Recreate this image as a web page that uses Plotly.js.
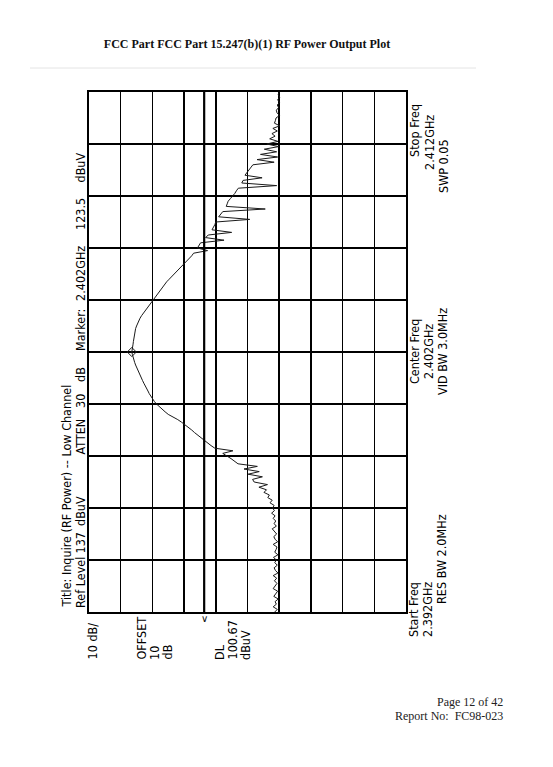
<!DOCTYPE html>
<html>
<head>
<meta charset="utf-8">
<script src="https://cdn.plot.ly/plotly-3.0.1.min.js"></script>
<style>
html,body{margin:0;padding:0;background:#fff;}
#chart{width:553px;height:767px;}
</style>
</head>
<body>
<div id="chart"></div>
<script>
// ---- Sweep data (spectrum analyzer trace), frequency in MHz, level in dBuV ----
const startFreqMHz = 2392;
const stopFreqMHz = 2412;
const sweepStepMHz = 0.1;
const refLevel = 137;
const dbPerDiv = 10;
const displayLine = 100.67;
const markerFreqMHz = 2402;
const markerLevel = 123.5;

const traceLevels = [
  78.4, 77.6, 78.9, 77.9, 78.3, 77.3, 78.7, 78.1, 77.5, 78.9,
  78.2, 77.7, 78.5, 77.8, 78.9, 77.4, 78.2, 78.6, 77.6, 78.4,
  77.9, 78.8, 77.4, 78.4, 78.0, 77.7, 78.9, 77.5, 78.3, 78.7,
  77.8, 78.4, 79.2, 77.9, 78.6, 78.1, 78.9, 78.3, 79.4, 78.5,
  79.1, 78.6, 79.9, 79.2, 80.6, 80.1, 81.8, 81.0, 83.4, 80.7,
  84.9, 85.4, 82.3, 86.8, 83.3, 88.1, 83.9, 90.0, 91.0, 92.2,
  93.5, 94.8, 91.6, 97.3, 98.5, 99.6, 100.7, 101.6, 102.9, 103.7,
  104.6, 105.6, 106.8, 107.8, 109.0, 110.5, 112.0, 113.0, 114.0, 114.8,
  115.7, 116.4, 117.0, 117.5, 118.0, 118.4, 118.9, 119.3, 119.7, 120.1,
  120.5, 120.9, 121.3, 121.7, 122.0, 122.3, 122.6, 122.9, 123.1, 123.3,
  123.5, 123.3, 123.2, 123.1, 123.0, 122.9, 122.8, 122.7, 122.5, 122.3,
  122.0, 121.7, 121.3, 120.9, 120.4, 119.8, 119.1, 118.4, 117.8, 117.3,
  116.8, 116.2, 115.6, 115.0, 114.4, 113.8, 113.1, 112.5, 111.7, 110.9,
  110.1, 109.4, 108.6, 107.8, 107.0, 106.0, 105.3, 104.6, 104.0, 99.6,
  102.8, 102.3, 101.8, 94.4, 100.2, 99.4, 92.0, 98.2, 97.7, 97.3,
  97.0, 86.3, 96.1, 95.5, 94.8, 81.4, 93.7, 93.4, 93.1, 92.4,
  91.6, 91.0, 90.5, 89.9, 77.8, 88.8, 88.4, 82.4, 87.8, 87.2,
  86.5, 85.9, 85.3, 78.6, 84.0, 77.5, 82.9, 77.8, 81.7, 77.2,
  80.9, 77.4, 80.0, 78.3, 79.3, 77.6, 79.0, 76.8, 78.5, 78.2,
  78.0, 76.9, 77.7, 77.9, 77.2, 77.6, 76.9, 77.5, 76.8, 77.3,
  77.0
];

// ---- Text labels ----
const headerText = "FCC Part FCC Part 15.247(b)(1) RF Power Output Plot";
const titleLine = "Title: Inquire (RF Power) -- Low Channel";
const infoWords = ["Ref Level", "137", "dBuV", "ATTEN", "30", "dB", "Marker:", "2.402GHz", "123.5", "dBuV"];
const scaleLabels = ["10 dB/", "OFFSET", "10", "dB", "DL", "100.67", "dBuV"];
const startLabels = ["Start Freq", "2.392GHz", "RES BW 2.0MHz"];
const centerLabels = ["Center Freq", "2.402GHz", "VID BW 3.0MHz"];
const stopLabels = ["Stop Freq", "2.412GHz", "SWP 0.05"];
const footerLines = ["Page 12 of 42", "Report No:  FC98-023"];

// ---- Layout geometry (pixels) ----
const W = 553, H = 767;
const L = 89, R = 406, T = 92, B = 612;
function px(x){ return (x - L) / (R - L); }
function py(y){ return (B - y) / (B - T); }

const anaFont = {family: "DejaVu Sans Condensed, Arial Narrow, sans-serif", size: 12.5, color: "#000"};
const serifFont = {family: "Liberation Serif, Times New Roman, serif", size: 12, color: "#222"};

const ann = [];
function rot(text, x, y, yanchor){
  ann.push({text: text, xref: "paper", yref: "paper", x: px(x), y: py(y),
    xanchor: "center", yanchor: yanchor || "middle", textangle: -90,
    showarrow: false, font: anaFont});
}
// left info lines
rot(titleLine, 66, 610, "bottom");
const infoY = [583, 543.5, 511, 436.5, 401, 375, 330, 274, 214, 167.5];
infoWords.forEach((w, i) => rot(w, 80, infoY[i]));
// below-plot scale labels (start at y=662, read upward)
const scaleX = [92, 141, 154, 167, 219, 232, 245];
scaleLabels.forEach((w, i) => rot(w, scaleX[i], 662, "bottom"));
// right side frequency labels
rot(startLabels[0], 413, 610); rot(startLabels[1], 427, 610); rot(startLabels[2], 441, 559);
rot(centerLabels[0], 414, 352); rot(centerLabels[1], 428, 352); rot(centerLabels[2], 442, 352);
rot(stopLabels[0], 415, 131); rot(stopLabels[1], 429, 143); rot(stopLabels[2], 443, 166);
// DL caret below plot
ann.push({text: "∨", xref: "x", yref: "paper", x: displayLine, y: py(618), xanchor: "center",
  yanchor: "middle", showarrow: false, font: {family: "DejaVu Sans", size: 10, color: "#111"}});
// footer
ann.push({text: footerLines[0], xref: "paper", yref: "paper", x: px(505), y: py(702),
  xanchor: "right", yanchor: "middle", showarrow: false, font: serifFont});
ann.push({text: footerLines[1], xref: "paper", yref: "paper", x: px(505), y: py(716),
  xanchor: "right", yanchor: "middle", showarrow: false, font: serifFont});

const data = [
  {type: "scatter", mode: "lines", x: traceLevels, y0: startFreqMHz, dy: sweepStepMHz,
   line: {color: "#1a1a1a", width: 1}, hoverinfo: "skip"},
  {type: "scatter", mode: "markers", x: [markerLevel], y: [markerFreqMHz],
   marker: {symbol: "diamond-open", size: 7, color: "#1a1a1a", line: {width: 1}}, hoverinfo: "skip"}
];

const layout = {
  width: W, height: H,
  margin: {l: L, r: W - R, t: T, b: H - B, pad: 0},
  paper_bgcolor: "#fff", plot_bgcolor: "#fff",
  showlegend: false,
  title: {text: "<b>" + headerText + "</b>", xref: "container", yref: "container",
    x: 247 / W, y: 1 - 44 / H, xanchor: "center", yanchor: "middle",
    font: {family: "Liberation Serif, Times New Roman, serif", size: 12, color: "#111"}},
  xaxis: {range: [refLevel, refLevel - 10 * dbPerDiv], tick0: refLevel, dtick: dbPerDiv,
    showgrid: true, gridcolor: "#000", gridwidth: 1.5, zeroline: false,
    showline: true, mirror: true, linecolor: "#000", linewidth: 1.6,
    showticklabels: false, ticks: "", fixedrange: true},
  yaxis: {range: [startFreqMHz, stopFreqMHz], tick0: startFreqMHz, dtick: (stopFreqMHz - startFreqMHz) / 10,
    showgrid: true, gridcolor: "#000", gridwidth: 1.5, zeroline: false,
    showline: true, mirror: true, linecolor: "#000", linewidth: 1.6,
    showticklabels: false, ticks: "", fixedrange: true},
  shapes: [
    {type: "line", xref: "x", yref: "paper", x0: displayLine, x1: displayLine, y0: 0, y1: 1,
     line: {color: "#000", width: 2.2}},
    {type: "line", xref: "paper", yref: "paper", x0: px(30), x1: px(476), y0: py(68), y1: py(68),
     line: {color: "#e4e4e4", width: 1}}
  ],
  annotations: ann
};

Plotly.newPlot("chart", data, layout, {displayModeBar: false, staticPlot: true});
</script>
</body>
</html>
